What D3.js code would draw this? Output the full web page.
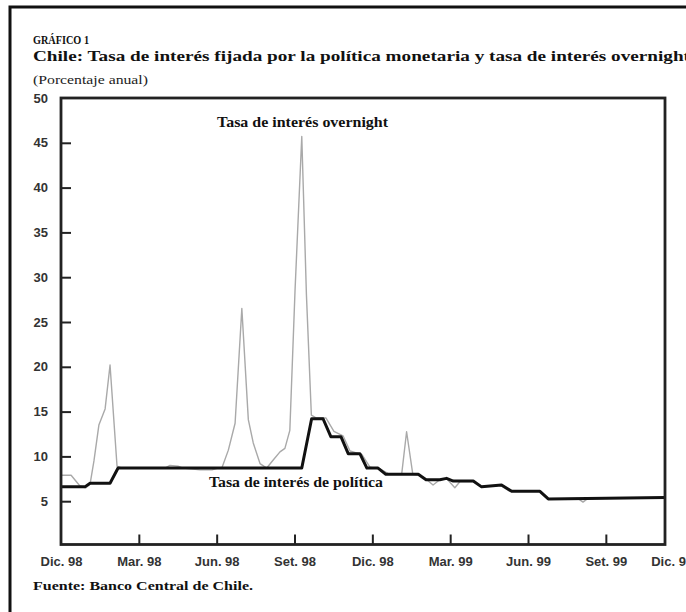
<!DOCTYPE html>
<html><head><meta charset="utf-8">
<script src="https://cdn.jsdelivr.net/npm/d3@7"></script>
<style>html,body{margin:0;padding:0;background:#fff;overflow:hidden}</style>
</head><body><svg id="c" width="686" height="612"></svg>
<script>
// ---- data (months since Dec-97 tick) ----
const xTickMonths = [0, 3, 6, 9, 12, 15, 18, 21, 24];
const xTickLabels = ["Dic. 98", "Mar. 98", "Jun. 98", "Set. 98", "Dic. 98", "Mar. 99", "Jun. 99", "Set. 99", "Dic. 99"];
const yTickValues = [5, 10, 15, 20, 25, 30, 35, 40, 45, 50];

const policyMonths = [0, 0.92, 1.12, 1.89, 2.20, 9.28, 9.66, 10.10, 10.40, 10.79, 11.07, 11.52, 11.79, 12.22, 12.52, 13.77, 14.07, 14.60, 14.86, 15.12, 15.89, 16.21, 16.98, 17.37, 18.46, 18.78, 23.28];
const policyValues = [6.6, 6.6, 7.0, 7.0, 8.7, 8.7, 14.2, 14.2, 12.2, 12.2, 10.3, 10.3, 8.7, 8.7, 8.0, 8.0, 7.4, 7.4, 7.55, 7.25, 7.25, 6.6, 6.8, 6.1, 6.1, 5.25, 5.4];

const overnightMonths = [0.00, 0.39, 0.73, 0.96, 1.12, 1.27, 1.46, 1.70, 1.89, 2.16, 2.35, 4.01, 4.20, 4.51, 4.70, 5.36, 5.82, 6.05, 6.20, 6.45, 6.71, 6.97, 7.22, 7.41, 7.67, 7.93, 8.18, 8.44, 8.63, 8.82, 9.02, 9.28, 9.46, 9.65, 9.83, 10.21, 10.52, 10.87, 11.14, 11.60, 11.91, 12.29, 12.60, 13.13, 13.32, 13.56, 13.83, 14.10, 14.34, 14.60, 14.87, 15.18, 15.38, 15.88, 16.22, 16.92, 17.30, 18.46, 18.77, 19.92, 20.12, 20.31, 23.28];
const overnightValues = [7.9, 7.9, 6.7, 6.5, 6.9, 9.5, 13.5, 15.3, 20.2, 8.9, 8.7, 8.7, 9.0, 8.9, 8.7, 8.5, 8.5, 8.7, 8.7, 10.7, 13.7, 26.5, 14.1, 11.5, 9.2, 8.7, 9.6, 10.5, 10.9, 12.9, 28.5, 45.7, 28.0, 14.6, 14.3, 14.3, 12.8, 12.3, 10.6, 10.2, 8.8, 8.6, 8.1, 8.0, 12.75, 8.0, 7.9, 7.4, 6.8, 7.4, 7.5, 6.5, 7.2, 7.2, 6.6, 6.8, 6.1, 6.1, 5.25, 5.3, 4.9, 5.3, 5.4];

const xDomainEnd = 23.28;

// ---- chart ----
const svg = d3.select("#c");
const x = d3.scaleLinear().domain([0, xDomainEnd]).range([61, 665]);
const y = d3.scaleLinear().domain([0, 50]).range([546, 98]);

// page border
svg.append("path").attr("d", "M10,612 V7 H686").attr("fill", "none")
  .attr("stroke", "#111").attr("stroke-width", 3);

// header texts
const serif = "'Liberation Serif','Times New Roman',serif";
svg.append("text").attr("x", 33).attr("y", 44).text("GRÁFICO 1")
  .attr("font-family", serif).attr("font-weight", "bold").attr("font-size", 13.5)
  .attr("textLength", 56).attr("lengthAdjust", "spacingAndGlyphs").attr("fill", "#111");
svg.append("text").attr("x", 33).attr("y", 61)
  .text("Chile: Tasa de interés fijada por la política monetaria y tasa de interés overnight")
  .attr("font-family", serif).attr("font-weight", "bold").attr("font-size", 15.5)
  .attr("textLength", 657).attr("lengthAdjust", "spacingAndGlyphs").attr("fill", "#111");
svg.append("text").attr("x", 33).attr("y", 84).text("(Porcentaje anual)")
  .attr("font-family", serif).attr("font-size", 11.5)
  .attr("textLength", 115).attr("lengthAdjust", "spacingAndGlyphs").attr("fill", "#222");

// lines
const line = d3.line().x(d => x(d[0])).y(d => y(d[1]));
const overnight = overnightMonths.map((m, i) => [m, overnightValues[i]]);
const policy = policyMonths.map((m, i) => [m, policyValues[i]]);

svg.append("path").datum(overnight).attr("d", line).attr("fill", "none")
  .attr("stroke", "#a9a9a9").attr("stroke-width", 1.4).attr("stroke-linejoin", "round");
svg.append("path").datum(policy).attr("d", line).attr("fill", "none")
  .attr("stroke", "#111").attr("stroke-width", 3).attr("stroke-linejoin", "round");

// frame
const [x0, x1] = x.range();
svg.append("rect").attr("x", x0).attr("y", y(50)).attr("width", x1 - x0).attr("height", y(0) - y(50) - 1.5)
  .attr("fill", "none").attr("stroke", "#222").attr("stroke-width", 2.8);

// y axis
const sans = "'Liberation Sans',Arial,sans-serif";
const yAxis = d3.axisRight(y).tickValues(yTickValues).tickSize(10).tickFormat(d3.format("d"));
const gy = svg.append("g").attr("transform", `translate(${x0},0)`).call(yAxis);
gy.select(".domain").remove();
gy.selectAll(".tick line").attr("stroke", "#222").attr("stroke-width", 2)
  .attr("opacity", d => d === 50 ? 0 : 1);
gy.selectAll(".tick text").attr("x", -13).attr("text-anchor", "end")
  .attr("font-family", sans).attr("font-weight", "bold").attr("font-size", 13).attr("fill", "#333");

// x axis
const xAxis = d3.axisTop(x).tickValues(xTickMonths).tickSize(10).tickFormat((d, i) => xTickLabels[i]);
const gx = svg.append("g").attr("transform", `translate(0,${y(0) - 1.5})`).call(xAxis);
gx.select(".domain").remove();
gx.selectAll(".tick line").attr("stroke", "#222").attr("stroke-width", 2)
  .attr("opacity", d => (d === 0 || d >= 24) ? 0 : 1);
gx.selectAll(".tick text").attr("y", 21).attr("dy", 0)
  .attr("dx", d => d >= 24 ? -12 : 0)
  .attr("font-family", sans).attr("font-weight", "bold").attr("font-size", 13).attr("fill", "#333");

// series labels
svg.append("text").attr("x", 217).attr("y", 127).text("Tasa de interés overnight")
  .attr("font-family", serif).attr("font-weight", "bold").attr("font-size", 14)
  .attr("textLength", 171).attr("lengthAdjust", "spacingAndGlyphs").attr("fill", "#111");
svg.append("text").attr("x", 209).attr("y", 487).text("Tasa de interés de política")
  .attr("font-family", serif).attr("font-weight", "bold").attr("font-size", 14)
  .attr("textLength", 174).attr("lengthAdjust", "spacingAndGlyphs").attr("fill", "#111");

// source
svg.append("text").attr("x", 33).attr("y", 590).text("Fuente: Banco Central de Chile.")
  .attr("font-family", serif).attr("font-weight", "bold").attr("font-size", 13)
  .attr("textLength", 220).attr("lengthAdjust", "spacingAndGlyphs").attr("fill", "#111");
</script>
</body></html>
